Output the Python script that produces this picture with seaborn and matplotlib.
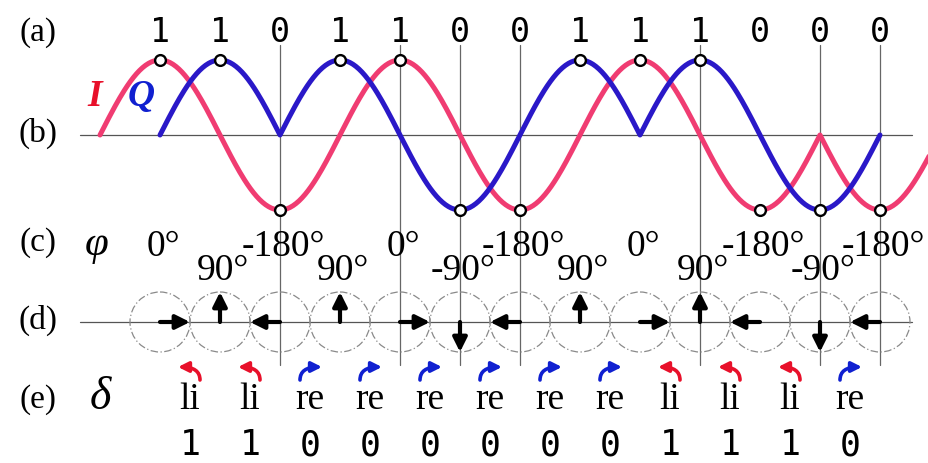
import numpy as np
import pandas as pd
import matplotlib
matplotlib.use("Agg")
import matplotlib.pyplot as plt
from matplotlib.patches import Circle, FancyArrowPatch
import seaborn as sns

# ---------------- data ----------------
top_bits = ['1', '1', '0', '1', '1', '0', '0', '1', '1', '1', '0', '0', '0']
i_half_signs = [1, -1, 1, -1, 1, -1, -1]      # I half-cycles centred on symbols 0,2,...,12
q_half_signs = [1, 1, -1, 1, 1, -1]           # Q half-cycles centred on symbols 1,3,...,11
phases = [0, 90, -180, 90, 0, -90, -180, 90, 0, 90, -180, -90, -180]
vline_symbols = [2, 4, 5, 6, 9, 11, 12]
turns = ['li', 'li', 're', 're', 're', 're', 're', 're', 'li', 'li', 'li', 're']
diff_bits = ['1', '1', '0', '0', '0', '0', '0', '0', '1', '1', '1', '0']
row_labels = ['(a)', '(b)', '(c)', '(d)', '(e)']

# ---------------- layout (pixels) ----------------
W, H = 929, 463
X0, DX = 160, 60
Y_AX, AMP = 135, 75
Y_D, R = 322, 30
PINK, BLUE = '#F03C72', '#2A18C8'
RED_T, BLUE_T = '#E8102A', '#1020D0'
SERIF = 'Liberation Serif'
MONO = 'DejaVu Sans Mono'

def px(t):
    return X0 + DX * np.asarray(t, dtype=float)

sns.set_theme(style='white')
plt.rcParams['text.color'] = 'black'
fig = plt.figure(figsize=(W / 100, H / 100), dpi=100)
ax = fig.add_axes([0, 0, 1, 1])

# waveforms built from the half-cycle signs (MSK half-sine pulses)
rows = []
for j, s in enumerate(i_half_signs):
    c = 2 * j
    for tt in np.linspace(c - 1, c + 1, 80):
        rows.append(('I', px(tt), Y_AX - AMP * s * np.cos(np.pi * (tt - c) / 2)))
for j, s in enumerate(q_half_signs):
    c = 2 * j + 1
    for tt in np.linspace(c - 1, c + 1, 80):
        rows.append(('Q', px(tt), Y_AX - AMP * s * np.cos(np.pi * (tt - c) / 2)))
wave = pd.DataFrame(rows, columns=['ch', 'x', 'y'])

# reference lines
ax.plot([80, 912], [Y_AX, Y_AX], color='#555555', lw=0.9, zorder=1)
ax.plot([80, 912], [Y_D, Y_D], color='#555555', lw=0.9, zorder=1)
for k in vline_symbols:
    ax.plot([px(k), px(k)], [45, 365], color='#666666', lw=0.9, zorder=1)

sns.lineplot(data=wave, x='x', y='y', hue='ch', palette={'I': PINK, 'Q': BLUE},
             sort=False, estimator=None, lw=3.6, legend=False, ax=ax, zorder=3)

# sample points
samp = pd.DataFrame({'x': px(np.arange(len(top_bits))),
                     'y': [Y_AX - AMP if b == '1' else Y_AX + AMP for b in top_bits]})
sns.scatterplot(data=samp, x='x', y='y', s=60, color='white', edgecolor='black',
                linewidth=1.7, ax=ax, zorder=5, legend=False)
ax.set_xlim(0, W)
ax.set_ylim(H, 0)
ax.axis('off')

# top bits
for k, b in enumerate(top_bits):
    ax.text(px(k), 33, b, family=MONO, fontsize=24, color='black',
            ha='center', va='center')

# I / Q labels
ax.text(95, 96, 'I', family=SERIF, fontsize=27, style='italic', weight='bold',
        color=RED_T, ha='center', va='center')
ax.text(141, 96, 'Q', family=SERIF, fontsize=27, style='italic', weight='bold',
        color=BLUE_T, ha='center', va='center')

# row labels
for lab, y in zip(row_labels, [33, 133, 243, 320, 400]):
    ax.text(38, y, lab, family=SERIF, fontsize=24, color='black',
            ha='center', va='center')
ax.text(97, 245, 'φ', family=SERIF, fontsize=31, style='italic', color='black',
        ha='center', va='center')
ax.text(100, 398, 'δ', family=SERIF, fontsize=33, style='italic', color='black',
        ha='center', va='center')

# phase labels
for k, p in enumerate(phases):
    y = 271 if abs(p) == 90 else 247
    ax.text(px(k) + 3, y, f'{p}°', family=SERIF, fontsize=27, color='black',
            ha='center', va='center', zorder=4)

# phasor circles and arrows
for k, p in enumerate(phases):
    cx = px(k)
    ax.add_patch(Circle((cx, Y_D), R, fill=False, edgecolor='#8a8a8a', lw=0.9,
                        linestyle=(0, (6, 2, 1, 2)), zorder=2))
    ang = np.deg2rad(p)
    ex, ey = cx + R * np.cos(ang), Y_D - R * np.sin(ang)
    ax.add_patch(FancyArrowPatch((cx, Y_D), (ex, ey), arrowstyle='-|>',
                                 mutation_scale=21, lw=3, color='black',
                                 shrinkA=0, shrinkB=0, zorder=4))

# turn arrows, labels, differential bits
for k, (tn, b) in enumerate(zip(turns, diff_bits)):
    cx = px(k + 0.5)
    sgn = 1 if tn == 'li' else -1
    col = RED_T if tn == 'li' else BLUE_T
    ax.add_patch(FancyArrowPatch((cx + sgn * 10, 380), (cx - sgn * 12, 367),
                                 connectionstyle='angle3,angleA=90,angleB=0',
                                 arrowstyle='-|>', mutation_scale=15, lw=2.6,
                                 color=col, shrinkA=0, shrinkB=0))
    ax.text(cx, 400, tn, family=SERIF, fontsize=27, color='black',
            ha='center', va='center')
    ax.text(cx, 445, b, family=MONO, fontsize=25, color='black',
            ha='center', va='center')

fig.savefig('out.png', dpi=100)
